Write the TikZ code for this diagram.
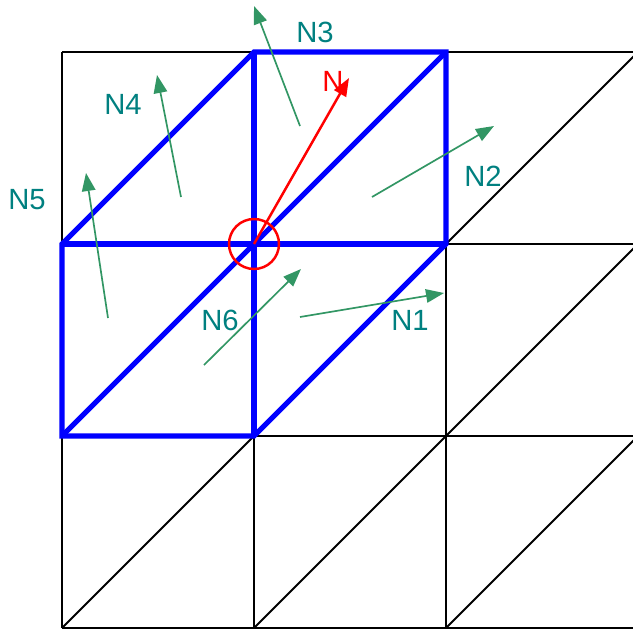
\documentclass[tikz,border=0pt]{standalone}
\usepackage{fontspec}
\setmainfont{Liberation Sans}
\usetikzlibrary{arrows.meta}
\definecolor{normgreen}{RGB}{50,150,100}
\definecolor{labelteal}{RGB}{0,128,128}
\definecolor{meshblue}{RGB}{0,0,255}
\begin{document}
\begin{tikzpicture}[x=0.015625cm, y=-0.015625cm,
    grille/.style={black, line width=0.9pt},
    maille/.style={meshblue, line width=2.3pt, line join=miter},
    normale/.style={normgreen, line width=0.75pt, -{Triangle[length=8pt,width=6pt]}},
    etiquette/.style={text=labelteal, font=\fontsize{13}{15}\selectfont, inner sep=0pt}]
    \useasboundingbox (0,0) rectangle (633,630);

    % Points de la grille
    \foreach \i in {0,...,3}
        \foreach \j in {0,...,3}
            \coordinate (g-\i-\j) at (62+192*\i, 52+192*\j);

    % Grille triangulee
    \begin{scope}
        \clip (0,0) rectangle (633,630);
        \foreach \j in {0,...,3}
            \draw[grille] (g-0-\j) -- (g-3-\j);
        \foreach \i in {0,...,2}
            \draw[grille] (g-\i-0) -- (g-\i-3);
        \foreach \i [count=\ii] in {0,...,2}
            \foreach \j [count=\jj] in {0,...,2}
                \draw[grille] (g-\i-\jj) -- (g-\ii-\j);
    \end{scope}

    % Voisinage du sommet
    \draw[maille] (g-0-1) -- (g-1-0) -- (g-2-0) -- (g-2-1) -- (g-1-2) -- (g-0-2) -- cycle;
    \draw[maille] (g-1-0) -- (g-1-2);
    \draw[maille] (g-0-1) -- (g-2-1);
    \draw[maille] (g-0-2) -- (g-2-0);

    % Normales des faces
    \coordinate (n1a) at (300,317); \coordinate (n1b) at (444,293);
    \coordinate (n2a) at (372,197); \coordinate (n2b) at (494,126);
    \coordinate (n3a) at (300,126); \coordinate (n3b) at (254,6);
    \coordinate (n4a) at (181,197); \coordinate (n4b) at (157,75);
    \coordinate (n5a) at (108,318); \coordinate (n5b) at (86,173);
    \coordinate (n6a) at (204,365); \coordinate (n6b) at (301,269);
    \foreach \n in {1,...,6}
        \draw[normale] (n\n a) -- (n\n b);

    \node[etiquette] (l1) at (410,320) {N1};
    \node[etiquette] (l2) at (483,176) {N2};
    \node[etiquette] (l3) at (315,32) {N3};
    \node[etiquette] (l4) at (123,104) {N4};
    \node[etiquette] (l5) at (27,200) {N5};
    \node[etiquette] (l6) at (220,320) {N6};

    % Normale du sommet
    \draw[red, line width=1.1pt] (g-1-1) circle (25);
    \coordinate (ntip) at (349,78);
    \draw[red, line width=1.1pt, -{Triangle[length=8pt,width=6pt]}] (g-1-1) -- (ntip);
    \node[text=red, font=\fontsize{13}{15}\selectfont, inner sep=0pt] (lN) at (333,81) {N};
\end{tikzpicture}
\end{document}
